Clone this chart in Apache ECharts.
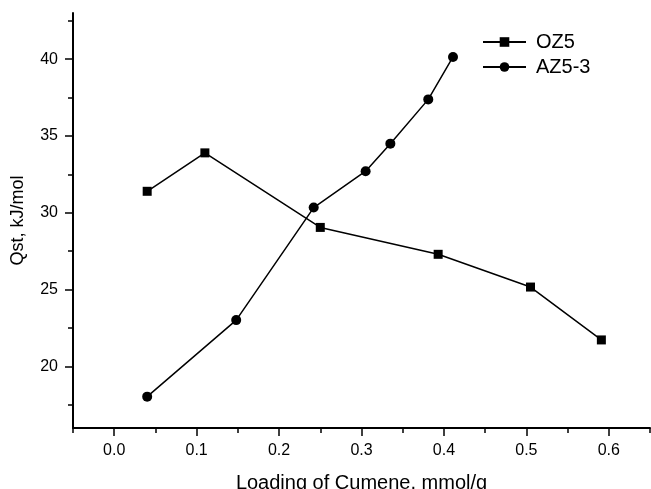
<!DOCTYPE html>
<html>
<head>
<meta charset="utf-8">
<script src="https://cdn.jsdelivr.net/npm/echarts@6/dist/echarts.min.js"></script>
<style>
  html, body { margin: 0; padding: 0; background: #fff; }
  #chart { width: 651px; height: 489px; }
</style>
</head>
<body>
<div id="chart"></div>
<script>
// loading (mmol/g) and Qst (kJ/mol)
const oz5X = [0.04, 0.11, 0.25, 0.393, 0.505, 0.591]
const oz5Y = [31.4, 33.9, 29.05, 27.3, 25.17, 21.73]
const az53X = [0.04, 0.148, 0.242, 0.305, 0.335, 0.381, 0.411]
const az53Y = [18.04, 23.02, 30.34, 32.71, 34.5, 37.38, 40.14]

const xMajor = [0, 0.1, 0.2, 0.3, 0.4, 0.5, 0.6]
const xMinor = [-0.05, 0.05, 0.15, 0.25, 0.35, 0.45, 0.55, 0.65]
const yMajor = [20, 25, 30, 35, 40]
const yMinor = [17.5, 22.5, 27.5, 32.5, 37.5, 42.5]

const font = 'Liberation Sans, Arial, sans-serif'
const black = '#000'

const pairs = (xs, ys) => xs.map((x, i) => [x, ys[i]])

const chart = echarts.init(document.getElementById('chart'))

// major and minor ticks live on two stacked axes so they can differ in length
const baseX = {
  type: 'value', min: -0.05, max: 0.65, position: 'bottom',
  splitLine: { show: false }
}
const baseY = {
  type: 'value', min: 16, max: 43, position: 'left',
  splitLine: { show: false }
}

const option = {
  animation: false,
  backgroundColor: '#fff',
  grid: { left: 73, right: 1, top: 13, bottom: 61, containLabel: false, outerBoundsMode: 'none' },
  legend: {
    orient: 'vertical',
    left: 477,
    top: 27,
    itemWidth: 43,
    itemHeight: 12,
    itemGap: 5,
    textStyle: { fontFamily: font, fontSize: 20, color: black, lineHeight: 20, padding: [0, 0, 0, 5] },
    data: ['OZ5', 'AZ5-3']
  },
  xAxis: [
    {
      ...baseX,
      name: 'Loading of Cumene, mmol/g',
      nameLocation: 'middle',
      nameGap: 45,
      nameTextStyle: { fontFamily: font, fontSize: 20, color: black },
      axisLine: { onZero: false, lineStyle: { color: black, width: 2 } },
      axisTick: { customValues: xMajor, length: 8, lineStyle: { color: black, width: 1.5 } },
      axisLabel: {
        customValues: xMajor, margin: 15,
        fontFamily: font, fontSize: 16, color: black,
        formatter: v => v.toFixed(1)
      }
    },
    {
      ...baseX,
      axisLine: { show: false, onZero: false },
      axisTick: { customValues: xMinor, length: 5, lineStyle: { color: black, width: 1.5 } },
      axisLabel: { show: false }
    }
  ],
  yAxis: [
    {
      ...baseY,
      name: 'Qst, kJ/mol',
      nameLocation: 'middle',
      nameGap: 46,
      nameTextStyle: { fontFamily: font, fontSize: 18, color: black },
      axisLine: { show: true, onZero: false, lineStyle: { color: black, width: 2 } },
      axisTick: { show: true, customValues: yMajor, length: 8, lineStyle: { color: black, width: 1.5 } },
      axisLabel: {
        customValues: yMajor, margin: 15,
        fontFamily: font, fontSize: 16, color: black
      }
    },
    {
      ...baseY,
      axisLine: { show: false, onZero: false },
      axisTick: { show: true, customValues: yMinor, length: 5, lineStyle: { color: black, width: 1.5 } },
      axisLabel: { show: false }
    }
  ],
  series: [
    {
      name: 'OZ5',
      type: 'line',
      xAxisIndex: 0,
      yAxisIndex: 0,
      data: pairs(oz5X, oz5Y),
      symbol: 'rect',
      symbolSize: 9,
      lineStyle: { color: black, width: 1.5 },
      itemStyle: { color: black }
    },
    {
      name: 'AZ5-3',
      type: 'line',
      xAxisIndex: 0,
      yAxisIndex: 0,
      data: pairs(az53X, az53Y),
      symbol: 'circle',
      symbolSize: 10,
      lineStyle: { color: black, width: 1.5 },
      itemStyle: { color: black }
    }
  ]
}

chart.setOption(option)
</script>
</body>
</html>
